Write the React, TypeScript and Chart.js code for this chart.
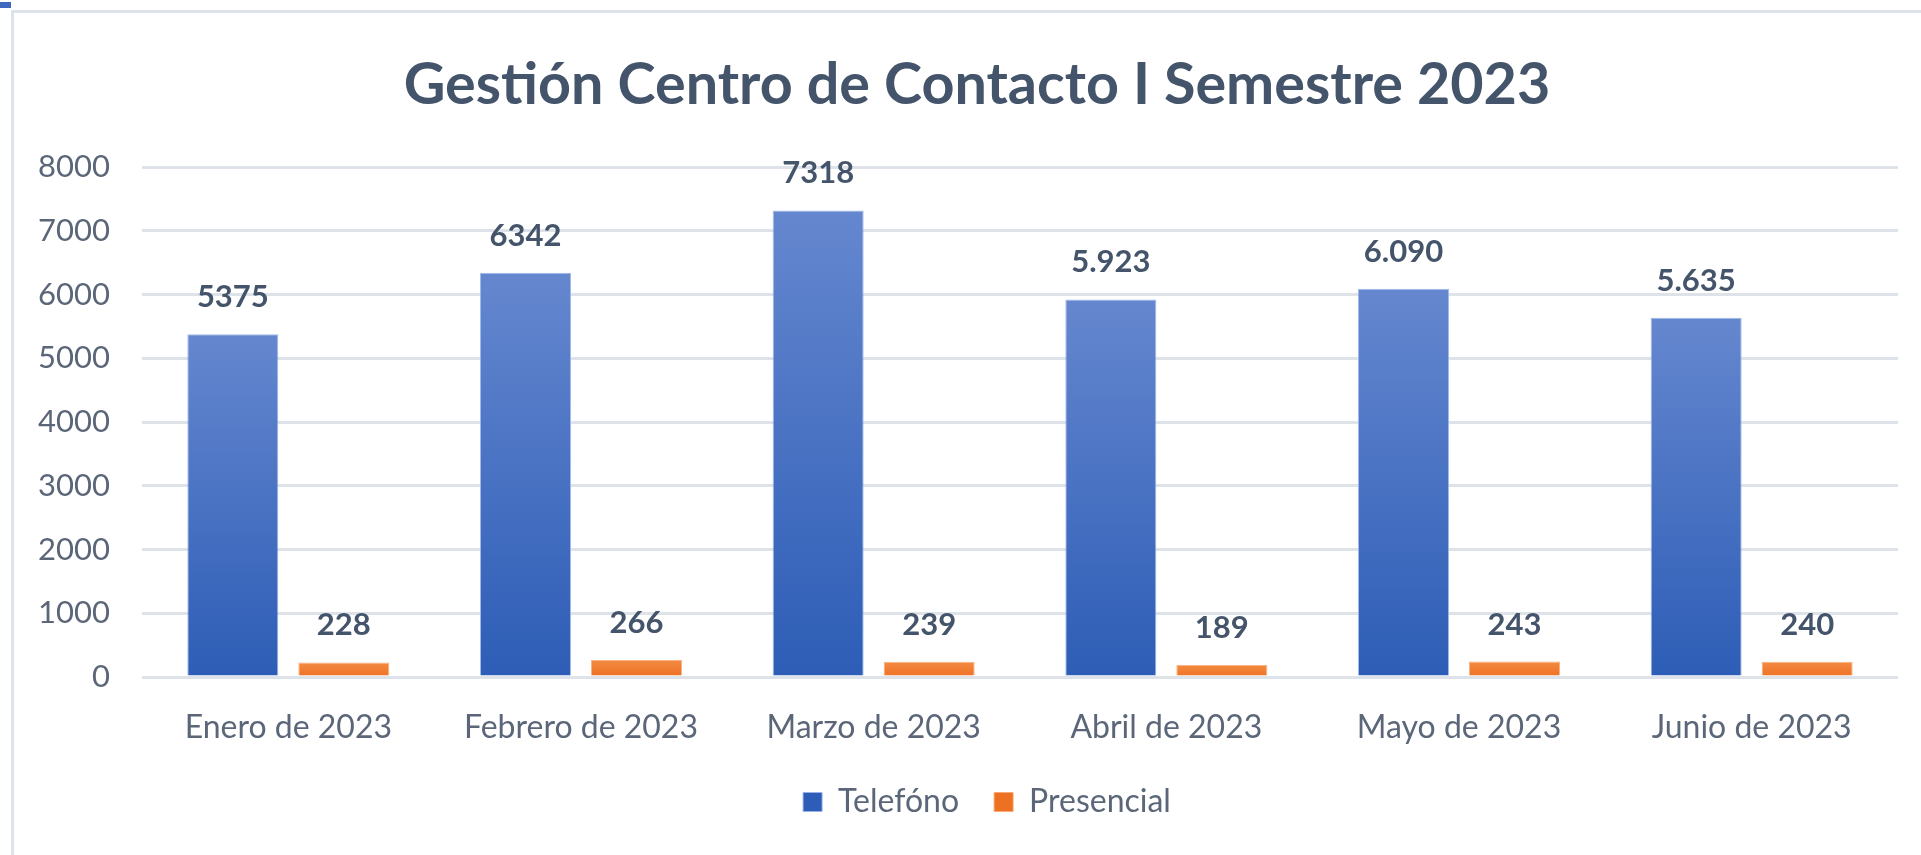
import React, { useEffect, useRef } from "react";
import { Chart, registerables } from "chart.js";

Chart.register(...registerables);

const categories = [
  "Enero de 2023",
  "Febrero de 2023",
  "Marzo de 2023",
  "Abril de 2023",
  "Mayo de 2023",
  "Junio de 2023",
];
const seriesNames = ["Telefóno", "Presencial"];
const telefonoValues = [5375, 6342, 7318, 5923, 6090, 5635];
const presencialValues = [228, 266, 239, 189, 243, 240];
const telefonoLabels = ["5375", "6342", "7318", "5.923", "6.090", "5.635"];
const presencialLabels = ["228", "266", "239", "189", "243", "240"];
const yMin = 0;
const yMax = 8000;
const yStep = 1000;
const titleText = "Gestión Centro de Contacto I Semestre 2023";

const FONT = "Lato, 'Open Sans', sans-serif";
const TITLE_COLOR = "#44546A";
const AXIS_COLOR = "#5B6679";
const GRID_COLOR = "#DEE3EA";

function barGradient(top: string, bottom: string, mid: string) {
  return (ctx: any) => {
    if (ctx.type !== "data") return mid;
    const chart = ctx.chart;
    const yScale = chart.scales && chart.scales.y;
    if (!yScale) return mid;
    const v = ctx.raw as number;
    const y0 = yScale.getPixelForValue(0);
    const y1 = yScale.getPixelForValue(v);
    if (!isFinite(y0) || !isFinite(y1) || Math.abs(y0 - y1) < 1) return mid;
    const g = chart.ctx.createLinearGradient(0, y1, 0, y0);
    g.addColorStop(0, top);
    g.addColorStop(1, bottom);
    return g;
  };
}

const valueLabelPlugin = {
  id: "valueLabels",
  afterDatasetsDraw(chart: any) {
    const ctx = chart.ctx;
    const labelSets = [telefonoLabels, presencialLabels];
    chart.data.datasets.forEach((_ds: any, di: number) => {
      const meta = chart.getDatasetMeta(di);
      meta.data.forEach((bar: any, i: number) => {
        ctx.save();
        ctx.font = `bold 31px ${FONT}`;
        ctx.fillStyle = TITLE_COLOR;
        ctx.textAlign = "center";
        ctx.textBaseline = "alphabetic";
        ctx.fillText(labelSets[di][i], bar.x, bar.y - 27);
        ctx.restore();
      });
    });
  },
};

// Shift title and legend so they are centred on the framed chart area
const centerShiftPlugin = {
  id: "centerShift",
  afterLayout(chart: any) {
    if (chart.titleBlock) chart.titleBlock.left += 56;
    if (chart.legend) chart.legend.left += 76;
  },
};

export default function App() {
  const canvasRef = useRef<HTMLCanvasElement | null>(null);

  useEffect(() => {
    if (!canvasRef.current) return;
    const chart = new Chart(canvasRef.current, {
      type: "bar",
      data: {
        labels: categories,
        datasets: [
          {
            label: seriesNames[0],
            data: telefonoValues,
            backgroundColor: barGradient("#6587CF", "#2D5DB6", "#4472C4"),
            borderColor: "rgba(150,178,232,0.9)",
            borderWidth: 1,
          },
          {
            label: seriesNames[1],
            data: presencialValues,
            backgroundColor: barGradient("#F38B42", "#EE7023", "#ED7D31"),
            borderColor: "rgba(248,170,115,0.9)",
            borderWidth: 1,
          },
        ],
      },
      options: {
        responsive: false,
        animation: false,
        devicePixelRatio: 1,
        layout: { padding: { left: 0, right: 23, top: 0, bottom: 27 } },
        datasets: {
          bar: { categoryPercentage: 0.7585, barPercentage: 0.82 },
        },
        plugins: {
          title: {
            display: true,
            text: titleText,
            color: TITLE_COLOR,
            font: { family: FONT, size: 57.5, weight: "bold", lineHeight: 1.2 },
            padding: { top: 51, bottom: 47 },
          },
          legend: {
            position: "bottom",
            labels: {
              boxWidth: 19,
              boxHeight: 19,
              padding: 35,
              color: AXIS_COLOR,
              font: { family: FONT, size: 32 },
            },
          },
          tooltip: { enabled: false },
        },
        scales: {
          x: {
            grid: { display: false },
            border: { display: false },
            ticks: {
              color: AXIS_COLOR,
              font: { family: FONT, size: 32 },
              padding: 23,
            },
            afterFit: (s: any) => {
              s.height = 74;
            },
          },
          y: {
            min: yMin,
            max: yMax,
            ticks: {
              stepSize: yStep,
              padding: 32,
              color: AXIS_COLOR,
              font: { family: FONT, size: 31 },
              callback: (v: any) => String(v),
            },
            grid: { color: GRID_COLOR, lineWidth: 3, drawTicks: false },
            border: { display: false },
            afterFit: (s: any) => {
              s.width = 142;
            },
          },
        },
      },
      plugins: [valueLabelPlugin, centerShiftPlugin],
    } as any);
    return () => chart.destroy();
  }, []);

  return (
    <div
      style={{
        position: "fixed",
        left: 0,
        top: 0,
        width: "1921px",
        height: "855px",
        background: "#FFFFFF",
        overflow: "hidden",
      }}
    >
      <div
        style={{
          position: "absolute",
          left: 0,
          top: 2,
          width: 11,
          height: 6,
          background: "#4068BE",
        }}
      />
      <div
        style={{
          position: "absolute",
          left: 11,
          top: 10,
          width: 1921 - 11,
          height: 855 - 10,
          borderLeft: `3px solid ${GRID_COLOR}`,
          borderTop: `3px solid ${GRID_COLOR}`,
          boxSizing: "border-box",
        }}
      />
      <canvas
        ref={canvasRef}
        width={1921}
        height={855}
        style={{ position: "absolute", left: 0, top: 0, width: "1921px", height: "855px" }}
      />
    </div>
  );
}
